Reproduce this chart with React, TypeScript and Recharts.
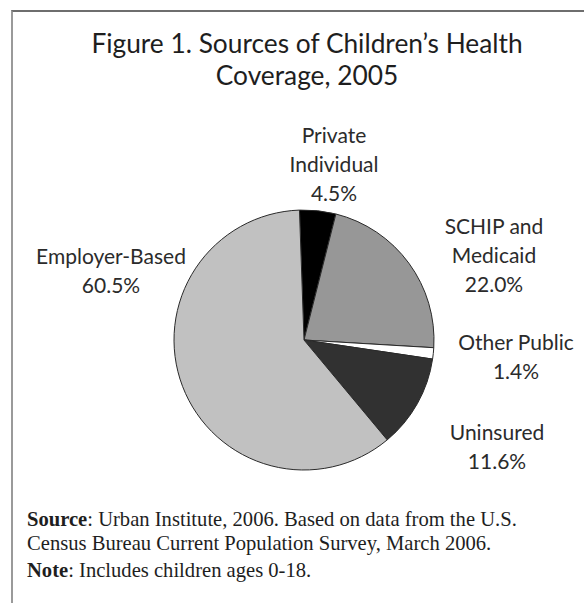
import React from 'react';
import { PieChart, Pie, Cell } from 'recharts';

const categories = ['Private Individual', 'SCHIP and Medicaid', 'Other Public', 'Uninsured', 'Employer-Based'];
const labelLines = [['Private', 'Individual'], ['SCHIP and', 'Medicaid'], ['Other Public'], ['Uninsured'], ['Employer-Based']];
const shares = [4.5, 22.0, 1.4, 11.6, 60.5];
const colors = ['#000000', '#979797', '#ffffff', '#313131', '#c1c1c1'];
// label block placement (first baseline) relative to the pie centre
const labelAnchors = [
  { dx: 30, dy: -197 },
  { dx: 190, dy: -106 },
  { dx: 212, dy: 10 },
  { dx: 193, dy: 100 },
  { dx: -193, dy: -76 },
];

const titleLines = ['Figure 1. Sources of Children\u2019s Health', 'Coverage, 2005'];

const data = categories.map((name, i) => ({ name, value: shares[i] }));

const LINE_H = 29;
const labelFont = 'Lato, "Noto Sans", sans-serif';

const renderLabel = (props: any) => {
  const { cx, cy, index, value } = props;
  const a = labelAnchors[index];
  const x = cx + a.dx;
  const y0 = cy + a.dy;
  const lines = [...labelLines[index], `${Number(value).toFixed(1)}%`];
  return (
    <text
      key={`lbl-${index}`}
      x={x}
      y={y0}
      textAnchor="middle"
      fill="#2b2b2b"
      style={{ fontFamily: labelFont, fontSize: 21 }}
    >
      {lines.map((t, k) => (
        <tspan key={k} x={x} y={y0 + k * LINE_H}>
          {t}
        </tspan>
      ))}
    </text>
  );
};

export default function App() {
  return (
    <div style={{ position: 'absolute', left: 0, top: 0, width: 584, height: 603, background: '#fff', overflow: 'hidden' }}>
      <div
        style={{
          position: 'absolute',
          left: 11,
          top: 10,
          width: 600,
          height: 620,
          borderTop: '2px solid #6e6e6e',
          borderLeft: '2px solid #9a9a9a',
        }}
      />
      <div style={{ position: 'absolute', left: 0, top: 0 }}>
        <PieChart width={584} height={603}>
          <Pie
            data={data}
            dataKey="value"
            nameKey="name"
            cx={299}
            cy={335}
            outerRadius={130}
            startAngle={92}
            endAngle={-268}
            stroke="#2a2a2a"
            strokeWidth={1}
            label={renderLabel}
            labelLine={false}
            isAnimationActive={false}
          >
            {data.map((d, i) => (
              <Cell key={d.name} fill={colors[i]} />
            ))}
          </Pie>
        </PieChart>
      </div>
      <svg width={584} height={603} style={{ position: 'absolute', left: 0, top: 0, pointerEvents: 'none' }}>
        <text textAnchor="middle" fill="#1e1e1e" style={{ fontFamily: 'Lato, "Noto Sans", sans-serif', fontSize: 26.3 }}>
          <tspan x={307} y={53}>{titleLines[0]}</tspan>
          <tspan x={307} y={85}>{titleLines[1]}</tspan>
        </text>
        <text fill="#1e1e1e" style={{ fontFamily: '"Liberation Serif", "DejaVu Serif", serif', fontSize: 20.6 }}>
          <tspan x={27} y={526}>
            <tspan fontWeight="bold">Source</tspan>: Urban Institute, 2006. Based on data from the U.S.
          </tspan>
          <tspan x={27} y={550}>Census Bureau Current Population Survey, March 2006.</tspan>
          <tspan x={27} y={577}>
            <tspan fontWeight="bold">Note</tspan>: Includes children ages 0-18.
          </tspan>
        </text>
      </svg>
    </div>
  );
}
